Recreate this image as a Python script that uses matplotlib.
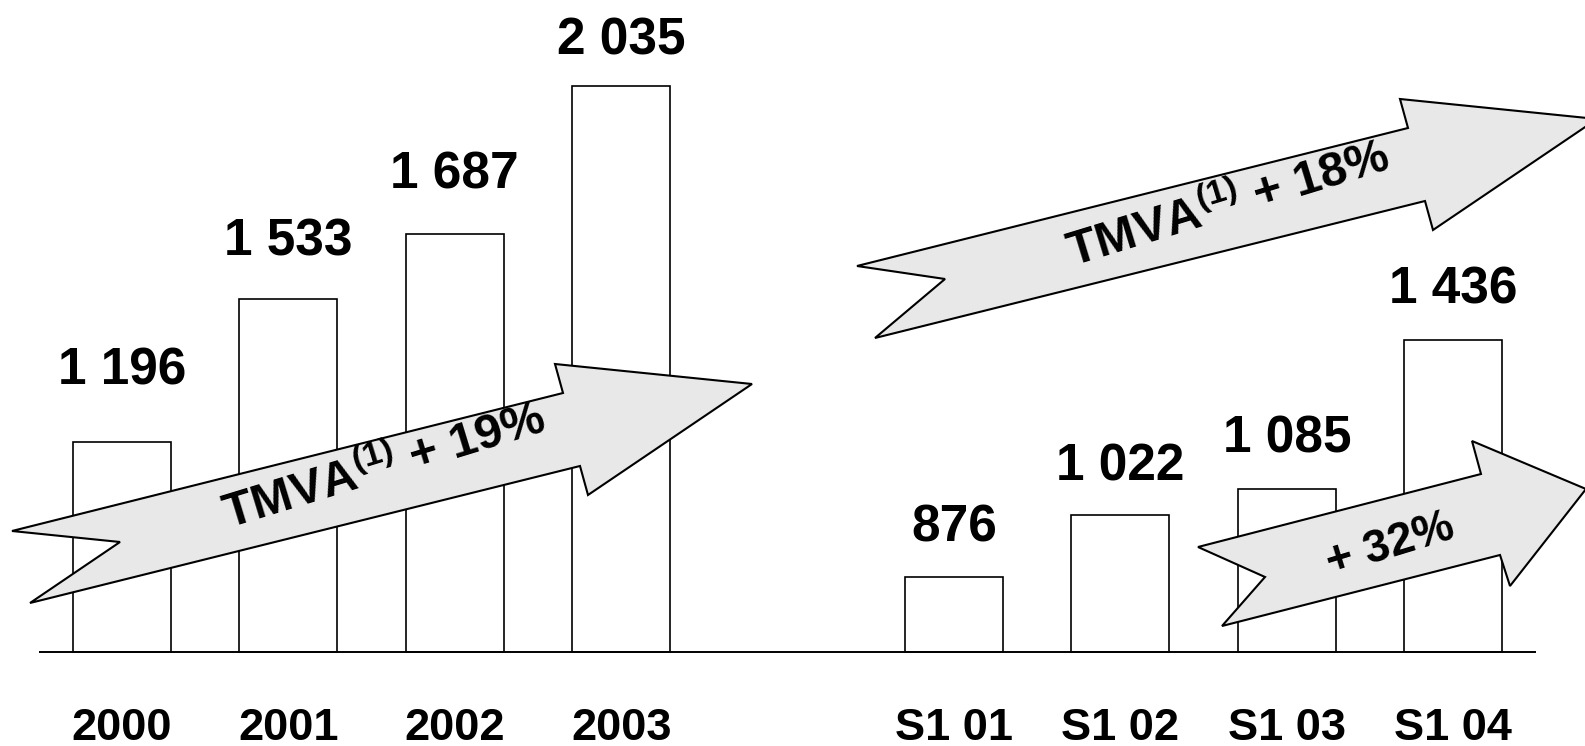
import matplotlib
matplotlib.use("Agg")
import matplotlib.pyplot as plt
from matplotlib.patches import Polygon
from matplotlib.transforms import Affine2D, blended_transform_factory

plt.rcParams['font.family'] = ['Liberation Sans', 'DejaVu Sans']
plt.rcParams['mathtext.fontset'] = 'custom'
plt.rcParams['mathtext.rm'] = 'Liberation Sans:bold'
plt.rcParams['mathtext.it'] = 'Liberation Sans:bold'
plt.rcParams['mathtext.bf'] = 'Liberation Sans:bold'

# ---- data ----
categories = ["2000", "2001", "2002", "2003", "S1 01", "S1 02", "S1 03", "S1 04"]
values = [1196, 1533, 1687, 2035, 876, 1022, 1085, 1436]
value_labels = ["1 196", "1 533", "1 687", "2 035", "876", "1 022", "1 085", "1 436"]
arrow_texts = [r"TMVA$^{(1)}$ + 19%", r"TMVA$^{(1)}$ + 18%", "+ 32%"]

# ---- layout ----
W, H = 1585, 746
positions = [0, 1, 2, 3, 5, 6, 7, 8]
label_gap_px = [57, 43, 45, 31, 36, 35, 36, 36]

fig = plt.figure(figsize=(W / 100, H / 100), dpi=100)
ax = fig.add_axes([0, 0, 1, 1])
ax.set_xlim(-0.733, 8.792)
ax.set_ylim(478.3, 2237.7)
ax.axis('off')

ax.bar(positions, [v - 700 for v in values], bottom=700, width=0.59,
       facecolor='white', edgecolor='black', linewidth=1.2, zorder=1)
ax.plot([-0.5, 8.5], [700, 700], color='black', linewidth=1.4, zorder=1,
        solid_capstyle='butt')

for x, v, lab, gap in zip(positions, values, value_labels, label_gap_px):
    ax.annotate(lab, xy=(x, v), xytext=(0, gap * 0.72), textcoords='offset points',
                ha='center', va='baseline', fontsize=37, fontweight='bold', zorder=4)

tick_tr = blended_transform_factory(ax.transData, ax.transAxes)
for x, c in zip(positions, categories):
    ax.text(x, 1 - 740 / H, c, transform=tick_tr, ha='center', va='baseline',
            fontsize=32.5, fontweight='bold', zorder=4)

# pixel (top-left origin) transform for decorative arrows
pix = Affine2D().scale(1 / W, -1 / H).translate(0, 1) + fig.transFigure

big_arrow = [(12, 531), (563, 393), (555, 364), (752, 384), (588, 495),
             (580, 466), (30, 603), (120, 542)]
shift = (845, -265)
big_arrow2 = [(x + shift[0], y + shift[1]) for x, y in big_arrow]
big_arrow2[-1] = (945, 279)
small_arrow = [(1198, 547), (1481, 474), (1472, 441), (1586, 489), (1510, 586),
               (1500, 555), (1222, 626), (1265, 577)]

for verts in (big_arrow, big_arrow2, small_arrow):
    p = Polygon(verts, closed=True, facecolor='#e8e8e8', edgecolor='black',
                linewidth=1.5, joinstyle='miter', transform=pix, zorder=2,
                clip_on=False)
    ax.add_patch(p)

text_pos = [(385, 467), (1229, 205), (1390, 545)]
text_rot = [17, 17, 17]
text_size = [35, 35, 33]
for (tx, ty), t, r, s in zip(text_pos, arrow_texts, text_rot, text_size):
    ax.text(tx, ty, t, transform=pix, ha='center', va='center', rotation=r,
            rotation_mode='anchor', fontsize=s, fontweight='bold', zorder=3)

fig.savefig("out.png", dpi=100)
